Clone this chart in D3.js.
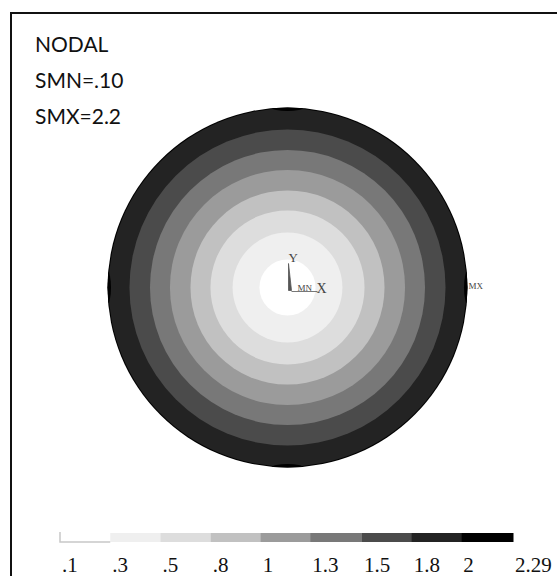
<!DOCTYPE html>
<html lang="en">

<head>
    <meta charset="UTF-8">
    <script type="text/javascript" src="https://d3js.org/d3.v7.min.js"></script>
    <title>Nodal solution</title>
    <style>
        body { margin: 0; background: #fff; }
        .head { font-family: Lato, "Open Sans", sans-serif; font-size: 21px; fill: #111; }
        .tick { font-family: "Liberation Serif", "DejaVu Serif", serif; font-size: 21px; fill: #111; }
        .triad { font-family: "Liberation Serif", serif; fill: #444; }
    </style>
</head>

<body>
    <script>
        // Contour levels (value at each band edge) and their legend labels
        var levels = [0.1, 0.343, 0.586, 0.829, 1.07, 1.31, 1.56, 1.80, 2.04, 2.29];
        var levelLabels = [".1", ".3", ".5", ".8", "1", "1.3", "1.5", "1.8", "2", "2.29"];
        // one grey per band, lowest value first
        var bandColors = ["#ffffff", "#efefef", "#dddddd", "#c1c1c1", "#9b9b9b",
            "#787878", "#4b4b4b", "#232323", "#000000"];
        // normalised radius where the field crosses levels[1..8]
        var contourRadii = [0.156, 0.305, 0.428, 0.539, 0.653, 0.764, 0.878, 0.994];
        // spots where the max band reaches the rim (degrees, 0 = +X)
        var maxSpots = [0, 90, 180, 270];
        var headerLines = ["NODAL", "SMN=.10", "SMX=2.2"];

        var width = 557, height = 576;
        var cx = 287.5, cy = 287.5;

        var svg = d3.select("body").append("svg")
            .attr("width", width)
            .attr("height", height);

        // frame (top and left edge only, like the source image)
        svg.append("path")
            .attr("d", "M11," + height + "V13H" + width)
            .attr("fill", "none")
            .attr("stroke", "#111")
            .attr("stroke-width", 2);

        // header text
        svg.selectAll("text.head")
            .data(headerLines)
            .enter().append("text")
            .attr("class", "head")
            .attr("x", 35)
            .attr("y", function (d, i) { return 52 + i * 36; })
            .text(function (d) { return d; });

        // radius scale for the disc
        var r = d3.scaleLinear().domain([0, 1]).range([0, 180]);
        var outerRadii = contourRadii.concat([1]);

        var disc = svg.append("g").attr("transform", "translate(" + cx + "," + cy + ")");

        disc.append("clipPath").attr("id", "discClip")
            .append("circle").attr("r", r(1));

        // draw bands from the outside in
        disc.selectAll("circle.band")
            .data(d3.range(bandColors.length).reverse())
            .enter().append("circle")
            .attr("class", "band")
            .attr("r", function (i) { return r(outerRadii[i]); })
            .attr("fill", function (i) { return bandColors[i]; });

        // thin slivers of the top band at the rim
        disc.append("g").attr("clip-path", "url(#discClip)")
            .selectAll("ellipse")
            .data(maxSpots)
            .enter().append("ellipse")
            .attr("rx", 3.5)
            .attr("ry", 16)
            .attr("fill", bandColors[8])
            .attr("transform", function (a) {
                var t = a * Math.PI / 180;
                return "translate(" + r(1) * Math.cos(t) + "," + (-r(1) * Math.sin(t)) + ") rotate(" + (-a) + ")";
            });

        // coordinate triad and min / max markers
        disc.append("path")
            .attr("d", "M1,-24L4,3L1,3Z")
            .attr("fill", "#555")
            .attr("stroke", "#555")
            .attr("stroke-width", 0.8);
        disc.append("line")
            .attr("x1", 4).attr("y1", 4).attr("x2", 30).attr("y2", 4)
            .attr("stroke", "#555").attr("stroke-width", 0.8);
        disc.append("text").attr("class", "triad").attr("x", 1).attr("y", -26)
            .attr("font-size", 13).text("Y");
        disc.append("text").attr("class", "triad").attr("x", 29).attr("y", 5)
            .attr("font-size", 14).text("X");
        disc.append("text").attr("class", "triad").attr("x", 10).attr("y", 3)
            .attr("font-size", 9).text("MN");
        disc.append("text").attr("class", "triad").attr("x", r(1) + 1).attr("y", 1)
            .attr("font-size", 9).attr("fill", "#777").text("MX");

        // legend
        var x = d3.scaleLinear().domain([levels[0], levels[levels.length - 1]]).range([60, 513]);
        var legend = svg.append("g");

        legend.selectAll("rect")
            .data(bandColors)
            .enter().append("rect")
            .attr("x", function (d, i) { return x(levels[i]); })
            .attr("y", 533)
            .attr("width", function (d, i) { return x(levels[i + 1]) - x(levels[i]) + 0.5; })
            .attr("height", 9)
            .attr("fill", function (d) { return d; });

        legend.append("path")
            .attr("d", "M" + x(levels[0]) + ",532V542H" + x(levels[1]))
            .attr("fill", "none")
            .attr("stroke", "#c8c8c8")
            .attr("stroke-width", 1.5);

        legend.selectAll("text")
            .data(levelLabels)
            .enter().append("text")
            .attr("class", "tick")
            .attr("x", function (d, i) { return x(levels[i]) + 2; })
            .attr("y", 572)
            .text(function (d) { return d; });
    </script>
</body>

</html>
